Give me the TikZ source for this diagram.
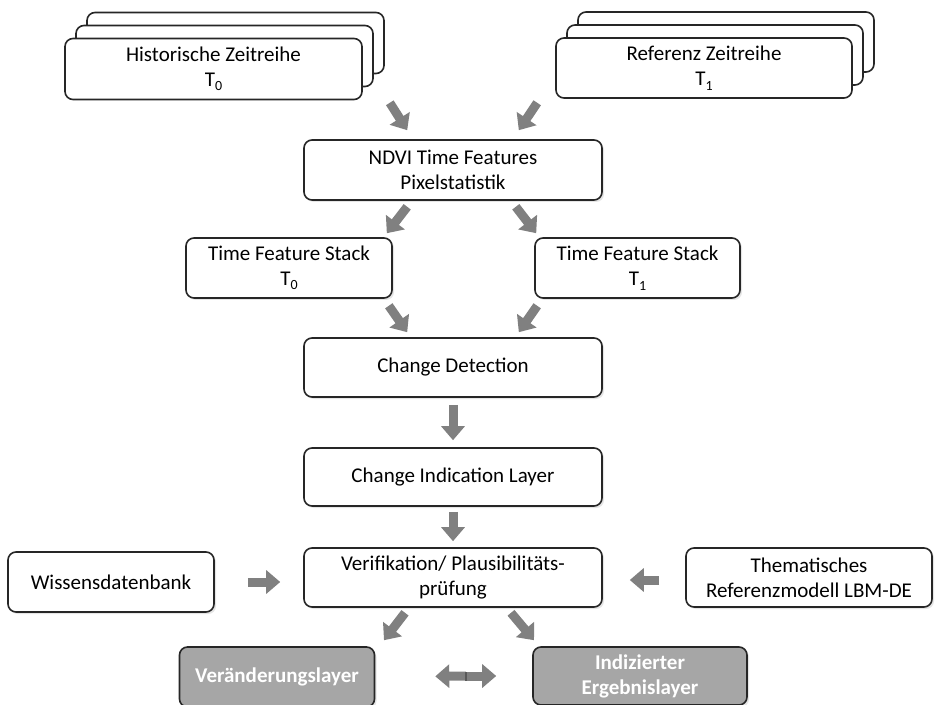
\documentclass[tikz,border=0pt]{standalone}
\usepackage{fontspec}
\setmainfont{Carlito}
\usetikzlibrary{shadows,arrows.meta,positioning}
\newcommand{\tsub}[1]{T\raisebox{-0.45ex}{\fontsize{7}{8}\selectfont #1}}

\begin{document}
\begin{tikzpicture}[x=0.5pt, y=-0.5pt,
  box/.style={rectangle, draw=black!85, line width=0.8pt, rounded corners=4pt, fill=white,
    align=center, font=\fontsize{10.5}{12.5}\selectfont, inner sep=2pt,
    drop shadow={opacity=0.2, shadow xshift=1pt, shadow yshift=-1pt}},
  stack/.style={rectangle, draw=black!85, line width=0.8pt, rounded corners=4pt, fill=white,
    align=center, font=\fontsize{10.5}{12.5}\selectfont, inner sep=2pt,
    double copy shadow={shadow xshift=5.5pt, shadow yshift=6.5pt}},
  result/.style={box, fill=black!35, text=white, font=\fontsize{10.5}{12.5}\selectfont\bfseries},
  fat/.style={draw=black!50, line width=4.5pt, -{Triangle[width=11.5pt,length=7pt]}}]
  \fill[white] (0,0) rectangle (941,705);
  \useasboundingbox (0,0) rectangle (941,705);

  \node[stack, minimum width=148.5pt, minimum height=30.5pt] (hist) at (213.5,69) {Historische Zeitreihe\\\tsub{0}};
  \node[stack, minimum width=148pt, minimum height=30pt] (ref) at (704,68) {Referenz Zeitreihe\\\tsub{1}};
  \node[box, minimum width=149pt, minimum height=30pt] (ndvi) at (453,170) {NDVI Time Features\\Pixelstatistik};
  \node[box, minimum width=103pt, minimum height=30pt] (tfsa) at (289,268) {Time Feature Stack\\\tsub{0}};
  \node[box, minimum width=102.5pt, minimum height=30pt] (tfsb) at (637.5,268) {Time Feature Stack\\\tsub{1}};
  \node[box, minimum width=149pt, minimum height=29.5pt] (cd) at (453,367.5) {Change Detection};
  \node[box, minimum width=149pt, minimum height=29pt] (cil) at (453,477) {Change Indication Layer};
  \node[box, minimum width=149pt, minimum height=29.5pt] (ver) at (453,577.5) {Verifikation/ Plausibilitäts-\\prüfung};
  \node[box, minimum width=103pt, minimum height=30pt] (wis) at (111,582) {Wissensdatenbank};
  \node[box, minimum width=123pt, minimum height=29.5pt] (them) at (809,577.5) {Thematisches\\Referenzmodell LBM-DE};
  \node[result, minimum width=97.5pt, minimum height=30pt] (verl) at (277,677) {Veränderungslayer};
  \node[result, minimum width=107pt, minimum height=29pt] (indiz) at (640,676) {Indizierter\\Ergebnislayer};
  \coordinate (mid) at (466,676);

  \draw[fat] ([shift={(27,2.5)}]hist.south east) -- ([shift={(104,-9)}]ndvi.north west);
  \draw[fat] ([shift={(-18,4)}]ref.south west) -- ([shift={(-84,-9)}]ndvi.north east);
  \draw[fat] ([shift={(104,6)}]ndvi.south west) -- ([shift={(-6,-4)}]tfsa.north east);
  \draw[fat] ([shift={(-87,6)}]ndvi.south east) -- ([shift={(2,-4)}]tfsb.north west);
  \draw[fat] ([shift={(-4,7)}]tfsa.south east) -- ([shift={(104,-5)}]cd.north west);
  \draw[fat] ([shift={(3,7)}]tfsb.south west) -- ([shift={(-84,-5)}]cd.north east);
  \draw[fat] ([shift={(0,7)}]cd.south) -- ([shift={(0,-7)}]cil.north);
  \draw[fat] ([shift={(0,5)}]cil.south) -- ([shift={(0,-6)}]ver.north);
  \draw[fat] ([shift={(33,0)}]wis.east) -- ([shift={(-23,4.5)}]ver.west);
  \draw[fat] ([shift={(-26,2.5)}]them.west) -- ([shift={(27,2.5)}]ver.east);
  \draw[fat] ([shift={(-48,5)}]ver.south) -- ([shift={(107,-6)}]verl.north);
  \draw[fat] ([shift={(58,5)}]ver.south) -- ([shift={(-106,-6)}]indiz.north);
  % double arrow between the results
  \draw[fat, shorten >=30pt] (mid) -- (verl.east);
  \draw[fat, shorten >=18pt] (mid) -- (indiz.west);
  \draw[black!65, line width=0.6pt] ([yshift=-2.25pt]mid) -- ([yshift=2.25pt]mid);
\end{tikzpicture}
\end{document}
